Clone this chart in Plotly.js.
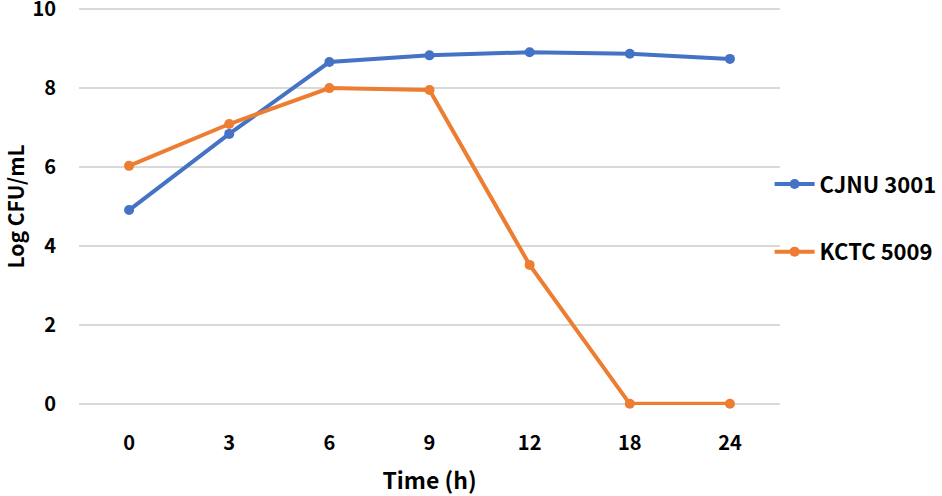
<!DOCTYPE html>
<html>
<head>
<meta charset="utf-8">
<script src="https://cdn.plot.ly/plotly-3.0.1.min.js"></script>
<style>html,body{margin:0;padding:0;background:#fff;}#chart{width:942px;height:496px;}</style>
</head>
<body>
<div id="chart"></div>
<script>
const timeLabels = ["0", "3", "6", "9", "12", "18", "24"];
const cjnu3001 = [4.91, 6.84, 8.66, 8.83, 8.91, 8.87, 8.74];
const kctc5009 = [6.03, 7.09, 8.0, 7.95, 3.52, 0, 0];
const seriesNames = ["CJNU 3001", "KCTC 5009"];
const yMin = 0, yMax = 10, yStep = 2;

const FONT = "'Noto Sans CJK KR', 'Noto Sans', sans-serif";
const traces = [
  {x: timeLabels, y: cjnu3001, name: seriesNames[0], type: "scatter", mode: "lines+markers",
   line: {color: "#4472C4", width: 4}, marker: {color: "#4472C4", size: 10}, legendgroup: "a", cliponaxis: false},
  {x: timeLabels, y: kctc5009, name: seriesNames[1], type: "scatter", mode: "lines+markers",
   line: {color: "#ED7D31", width: 4}, marker: {color: "#ED7D31", size: 10}, legendgroup: "b", cliponaxis: false}
];
const layout = {
  width: 942, height: 496,
  margin: {l: 79, r: 162, t: 8, b: 91, autoexpand: false},
  paper_bgcolor: "#fff", plot_bgcolor: "#fff",
  font: {family: FONT, color: "#000", size: 20, weight: "bold"},
  showlegend: true,
  legend: {xref: "container", yref: "container", x: 0.817, xanchor: "left", y: 0.56, yanchor: "middle",
           font: {size: 22, weight: "bold", family: FONT},
           tracegroupgap: 36, itemwidth: 40, bgcolor: "rgba(0,0,0,0)"},
  xaxis: {type: "category", range: [-0.5, 6.5], showgrid: false, zeroline: false, showline: false,
          ticks: "", ticklabelstandoff: 24, tickfont: {size: 20, weight: "bold"},
          title: {text: "Time (h)", font: {size: 23, weight: "bold"}, standoff: 21}},
  yaxis: {range: [yMin - 0.03, yMax + 0.03], tickmode: "linear", tick0: yMin, dtick: yStep,
          showgrid: true, gridcolor: "#D9D9D9", gridwidth: 1.5, ticklabeloverflow: "allow",
          zeroline: false, showline: false, ticks: "", ticklabelstandoff: 22,
          tickfont: {size: 20, weight: "bold"},
          title: {text: "Log CFU/mL", font: {size: 21, weight: "bold"}, standoff: 8}}
};
Plotly.newPlot("chart", traces, layout, {displayModeBar: false});
</script>
</body>
</html>
